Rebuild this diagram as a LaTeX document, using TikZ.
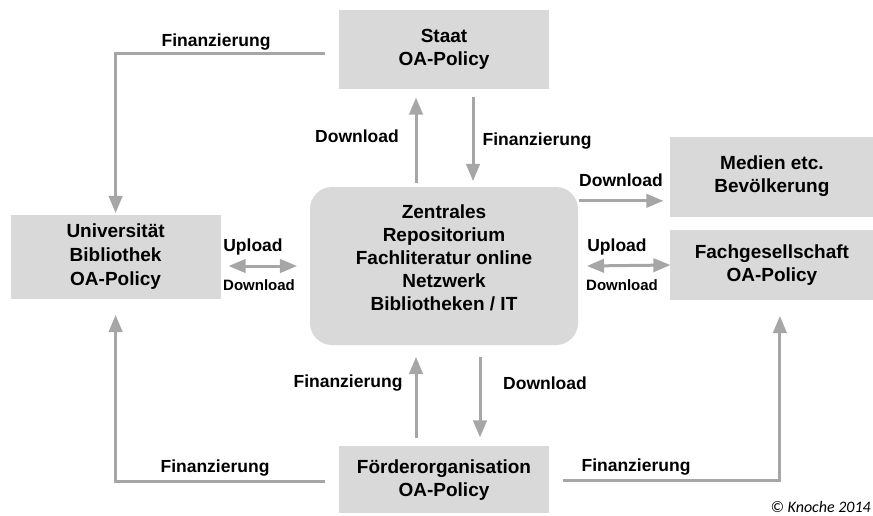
\documentclass[tikz,border=0pt]{standalone}
\usepackage{fontspec}
\setmainfont{Liberation Sans}
\newfontfamily\signfont{Carlito}
\usetikzlibrary{positioning}
\usetikzlibrary{arrows}

\definecolor{boxgray}{HTML}{D9D9D9}
\definecolor{flowgray}{HTML}{A6A6A6}

\tikzset{
  actor/.style={fill=boxgray, align=center, inner sep=0pt, font=\fontsize{19}{23}\selectfont\bfseries},
  flow/.style={draw=flowgray, line width=3pt, -triangle 45},
  lbl/.style={font=\fontsize{17.5}{20}\selectfont\bfseries, inner sep=0pt},
  lblsmall/.style={font=\fontsize{15}{18}\selectfont\bfseries, inner sep=0pt},
}

\begin{document}
\begin{tikzpicture}[x=1pt,y=-1pt]
     \useasboundingbox (0,0) rectangle (873,515);

     % nodes
     \node[actor, minimum width=268pt, minimum height=158pt, rounded corners=22pt] (zentral) at (444,266) {Zentrales\\Repositorium\\Fachliteratur online\\Netzwerk\\Bibliotheken / IT\\[-6pt]\mbox{}}; %
     \node[actor, minimum width=210pt, minimum height=79pt, above=98pt of zentral] (staat) {Staat\\OA-Policy}; %
     \node[actor, minimum width=210pt, minimum height=67pt, below=101pt of zentral] (foerder) {Förderorganisation\\OA-Policy}; %
     \node[actor, minimum width=210pt, minimum height=84pt, left=89pt of zentral, yshift=9pt, font=\fontsize{19}{24}\selectfont\bfseries] (uni) {Universität\\Bibliothek\\OA-Policy}; %
     \node[actor, minimum width=203pt, minimum height=70pt, right=92pt of zentral, yshift=1pt] (fach) {Fachgesellschaft\\OA-Policy}; %
     \node[actor, minimum width=203pt, minimum height=80pt, above=13pt of fach] (medien) {Medien etc.\\Bevölkerung}; %

     % edges
     \coordinate (mdl) at ([xshift=-7pt,yshift=16pt]medien.south west);
     \draw[flow] ([xshift=-14pt,yshift=-4pt]staat.west) -| ([yshift=2pt]uni.north);
     \draw[flow] ([xshift=-28pt,yshift=4pt]zentral.north) -- ([xshift=-28pt,yshift=-9pt]staat.south);
     \draw[flow] ([xshift=29pt,yshift=-8pt]staat.south) -- ([xshift=29pt,yshift=6pt]zentral.north);
     \draw[flow] ([xshift=1pt]zentral.east |- mdl) -- (mdl);
     \draw[flow, triangle 45-triangle 45] ([xshift=9pt]zentral.east) -- (fach.west);
     \draw[flow, triangle 45-triangle 45] ([xshift=8pt]uni.east |- zentral.west) -- ([xshift=-13pt]zentral.west);
     \draw[flow] ([xshift=-28pt,yshift=8pt]foerder.north) -- ([xshift=-28pt,yshift=-12pt]zentral.south);
     \draw[flow] ([xshift=36pt,yshift=-12pt]zentral.south) -- ([xshift=36pt,yshift=9pt]foerder.north);
     \draw[flow] ([xshift=-14pt,yshift=-1.5pt]foerder.west) -| ([yshift=-16pt]uni.south);
     \draw[flow] ([xshift=14pt,yshift=-0.5pt]foerder.east) -| ([xshift=8pt,yshift=-16pt]fach.south);

     % text
     \node[lbl] (finstaat) at (216,42) {Finanzierung};
     \node[lbl] (dlstaat) at (357,136) {Download};
     \node[lbl] (finzentral) at (537,141) {Finanzierung};
     \node[lbl] (dlmedien) at (621,180) {Download};
     \node[lbl] (upuni) at (253,247) {Upload};
     \node[lblsmall] (dluni) at (259,285) {Download};
     \node[lbl] (upfach) at (617,247) {Upload};
     \node[lblsmall] (dlfach) at (622,285) {Download};
     \node[lbl] (finfoerder) at (348,383) {Finanzierung};
     \node[lbl] (dlfoerder) at (545,383) {Download};
     \node[lbl] (finuni) at (215,468) {Finanzierung};
     \node[lbl] (finfach) at (636,467) {Finanzierung};
     \node[anchor=east, inner sep=0pt, font=\signfont\itshape\fontsize{16}{19}\selectfont] (sign) at (871,507) {© Knoche 2014};
 \end{tikzpicture}
\end{document}
